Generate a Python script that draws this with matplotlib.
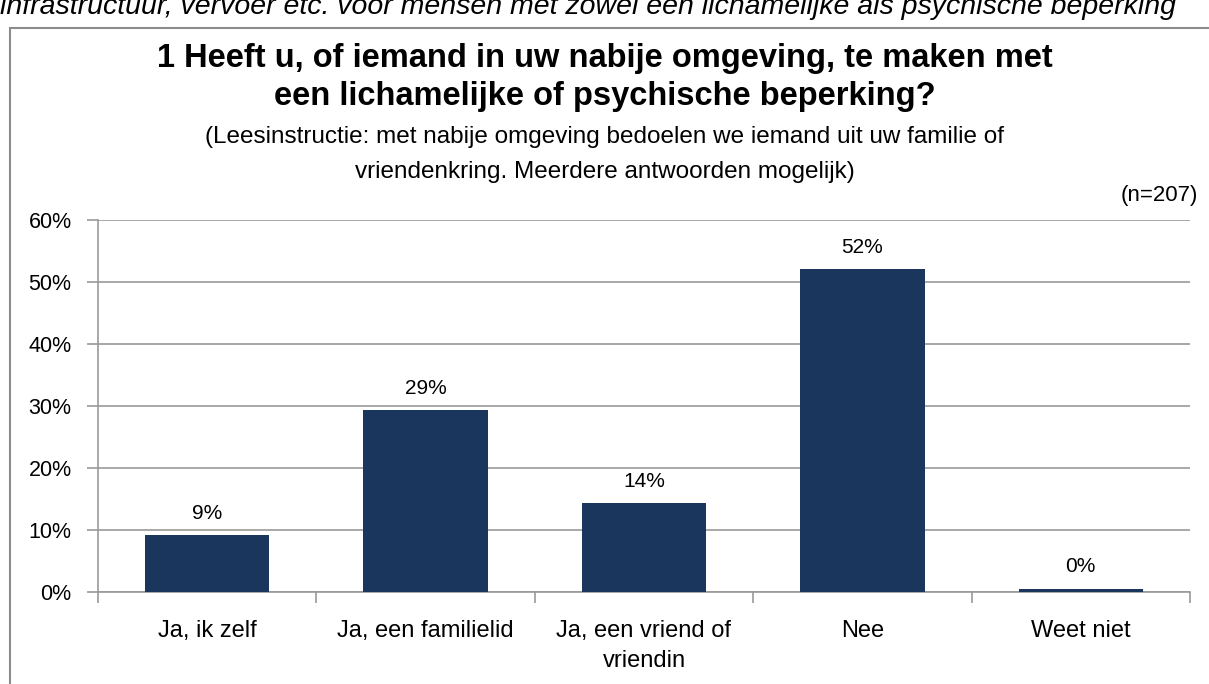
import matplotlib.pyplot as plt
from matplotlib.patches import Rectangle

categories = ['Ja, ik zelf', 'Ja, een familielid', 'Ja, een vriend of\nvriendin', 'Nee', 'Weet niet']
values = [9.2, 29.3, 14.3, 52.1, 0.5]
value_labels = ['9%', '29%', '14%', '52%', '0%']
yticks = [0, 10, 20, 30, 40, 50, 60]

plt.rcParams['font.family'] = ['Liberation Sans', 'DejaVu Sans']

W, H = 1209, 684
fig = plt.figure(figsize=(W / 100, H / 100), dpi=100)

# chart frame (cut off at right and bottom)
fig.patches.append(Rectangle((10 / W, -0.1), 1.2, 1 - 28 / H + 0.1, transform=fig.transFigure,
                             fill=False, edgecolor='#8c8c8c', linewidth=1.5))

# text from the page above the chart, partly cut off as in the original
fig.text(0.0, 1 - 14 / H, 'infrastructuur, vervoer etc. voor mensen met zowel een lichamelijke als psychische beperking',
         fontsize=20.5, style='italic', ha='left', va='baseline')

ax = fig.add_axes([98 / W, 1 - 592 / H, (1190 - 98) / W, (592 - 220) / H])
x = range(len(categories))
ax.bar(x, values, width=0.57, color='#1b365d', zorder=3)
for xi, v, lab in zip(x, values, value_labels):
    ax.text(xi, v + 2.0, lab, ha='center', va='bottom', fontsize=15)

ax.set_ylim(0, 60)
ax.set_xlim(-0.5, len(categories) - 0.5)
ax.set_yticks(yticks)
ax.set_yticklabels([f'{t}%' for t in yticks], fontsize=15.5)
ax.yaxis.grid(True, color='#999999', linewidth=1.2, zorder=0)
ax.set_xticks(list(x))
ax.set_xticklabels(categories, fontsize=17, linespacing=1.5)
ax.tick_params(axis='x', length=0, pad=20)
ax.set_xticks([i + 0.5 for i in range(-1, len(categories))], minor=True)
ax.tick_params(axis='x', which='minor', length=8, color='#999999', width=1.2)
ax.tick_params(axis='y', length=8, color='#999999', width=1.2, pad=11)
for s in ['top', 'right']:
    ax.spines[s].set_visible(False)
for s in ['left', 'bottom']:
    ax.spines[s].set_color('#999999')
    ax.spines[s].set_linewidth(1.2)
ax.spines['left'].set_zorder(4)

fig.text(0.5, 1 - 58 / H, '1 Heeft u, of iemand in uw nabije omgeving, te maken met', fontsize=23.5,
         fontweight='bold', ha='center', va='center')
fig.text(0.5, 1 - 97 / H, 'een lichamelijke of psychische beperking?', fontsize=23.5,
         fontweight='bold', ha='center', va='center')
fig.text(0.5, 1 - 137 / H, '(Leesinstructie: met nabije omgeving bedoelen we iemand uit uw familie of',
         fontsize=17.5, ha='center', va='center')
fig.text(0.5, 1 - 172 / H, 'vriendenkring. Meerdere antwoorden mogelijk)',
         fontsize=17.5, ha='center', va='center')
fig.text(1198 / W, 1 - 196 / H, '(n=207)', fontsize=16, ha='right', va='center')

fig.savefig('out.png', dpi=100)
